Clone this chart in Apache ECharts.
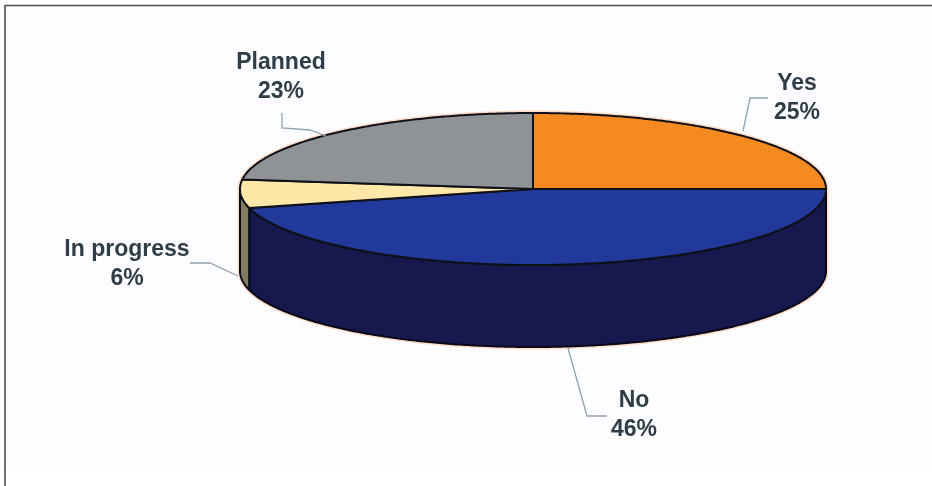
<!DOCTYPE html>
<html>
<head>
<meta charset="utf-8">
<style>html,body{margin:0;padding:0;background:#fff}#c{width:932px;height:486px;filter:blur(0.45px)}</style>
<script src="https://cdn.jsdelivr.net/npm/echarts@6/dist/echarts.min.js"></script>
</head>
<body>
<div id="c"></div>
<script>
const categories = ['Yes', 'No', 'In progress', 'Planned'];
const values = [25, 46, 6, 23];

const topColors = ['#f58a20', '#20399a', '#fde8a8', '#8f9396'];
const wallColors = ['#c26a12', '#17194e', '#857c60', '#6a6d70'];
const labelCenters = [[797, 98], [634, 415], [127, 264], [281, 77]];
const leaders = [
  [[768, 98], [750, 98], [743, 131]],
  [[568, 348], [587, 416], [607, 416]],
  [[190, 263], [210, 263], [238, 276]],
  [[282, 113], [282, 128], [310, 130], [326, 136]]
];
const C = { x: 533, y: 189, rx: 293, ry: 76, depth: 82 };

const total = values.reduce((a, b) => a + b, 0);
function pt(t, dy) {
  return [C.x + C.rx * Math.sin(t), C.y + (dy || 0) - C.ry * Math.cos(t)];
}
function arc(a, b, dy) {
  const n = Math.max(2, Math.ceil(Math.abs(b - a) / 0.01));
  const out = [];
  for (let i = 0; i <= n; i++) out.push(pt(a + (b - a) * i / n, dy));
  return out;
}
function angles(i, v) {
  let before = 0;
  for (let k = 0; k < i; k++) before += values[k];
  return [before / total * 2 * Math.PI, (before + v) / total * 2 * Math.PI];
}
function renderHalo(params, api) {
  const [a, b] = angles(params.dataIndex, api.value(0));
  const halo = { fill: null, stroke: '#ffdcc8', lineWidth: 5, lineJoin: 'round' };
  const children = [{ type: 'polyline', shape: { points: arc(a, b, 0) }, style: halo }];
  const wa = Math.max(a, Math.PI / 2), wb = Math.min(b, 3 * Math.PI / 2);
  if (wb > wa) {
    children.push({ type: 'polygon', shape: { points: arc(wa, wb, 0).concat(arc(wb, wa, C.depth)) }, style: halo });
  }
  return { type: 'group', children };
}
function renderItem(params, api) {
  const i = params.dataIndex;
  const [a, b] = angles(i, api.value(0));
  const children = [];
  const wa = Math.max(a, Math.PI / 2), wb = Math.min(b, 3 * Math.PI / 2);
  if (wb > wa) {
    children.push({
      type: 'polygon',
      shape: { points: arc(wa, wb, 0).concat(arc(wb, wa, C.depth)) },
      style: { fill: wallColors[i], stroke: '#08081a', lineWidth: 2, lineJoin: 'round' }
    });
  }
  children.push({
    type: 'polygon',
    shape: { points: [[C.x, C.y]].concat(arc(a, b, 0)) },
    style: { fill: topColors[i], stroke: '#101018', lineWidth: 2, lineJoin: 'round' }
  });
  children.push({
    type: 'polyline',
    shape: { points: leaders[i] },
    style: { fill: null, stroke: '#8ea3ad', lineWidth: 1.3 }
  });
  children.push({
    type: 'text',
    style: {
      x: labelCenters[i][0], y: labelCenters[i][1],
      text: categories[i] + '\n' + api.value(0) + '%',
      align: 'center', verticalAlign: 'middle',
      font: '600 23px "Liberation Sans", Arial, sans-serif',
      lineHeight: 29, fill: '#2e3d48'
    }
  });
  return { type: 'group', children };
}
const chart = echarts.init(document.getElementById('c'), null, { renderer: 'canvas' });
chart.setOption({
  animation: false,
  backgroundColor: '#ffffff',
  graphic: [
    { type: 'rect', z: -10, shape: { x: 5, y: 6, width: 927, height: 461 }, style: { fill: '#fdfdff' }, silent: true },
    { type: 'polyline', z: -9, shape: { points: [[5, 486], [5, 5.5], [932, 5.5]] }, style: { fill: null, stroke: '#4f4f52', lineWidth: 1.6 }, silent: true }
  ],
  series: [
    { type: 'custom', coordinateSystem: 'none', silent: true, z: 1, renderItem: renderHalo, data: values.map(v => [v]) },
    { type: 'custom', coordinateSystem: 'none', silent: true, z: 2, renderItem, data: values.map(v => [v]) }
  ]
});
</script>
</body>
</html>
